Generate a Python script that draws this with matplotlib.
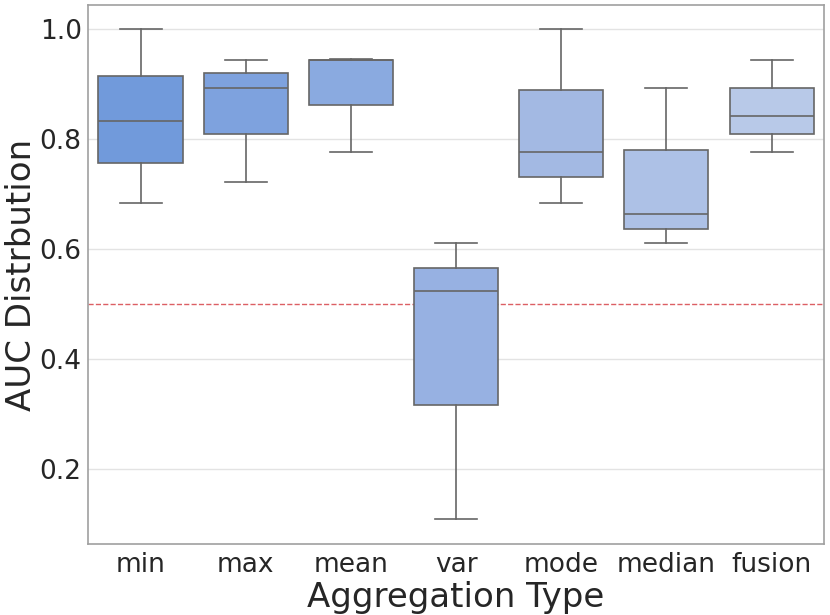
import matplotlib
matplotlib.use("Agg")
import matplotlib.pyplot as plt

# AUC box statistics per aggregation type
categories = ["min", "max", "mean", "var", "mode", "median", "fusion"]
whislo = [0.684, 0.722, 0.778, 0.109, 0.684, 0.611, 0.778]
q1     = [0.758, 0.809, 0.862, 0.318, 0.731, 0.638, 0.809]
med    = [0.833, 0.894, 0.944, 0.525, 0.778, 0.665, 0.842]
q3     = [0.916, 0.920, 0.945, 0.567, 0.889, 0.780, 0.893]
whishi = [1.000, 0.944, 0.947, 0.611, 1.000, 0.894, 0.944]
box_colors = ["#719adb", "#7ea2de", "#8aaae0", "#97b1e2",
              "#a3b9e3", "#adc1e6", "#b8c9e8"]

stats = []
for i, name in enumerate(categories):
    stats.append(dict(label=name, whislo=whislo[i], q1=q1[i], med=med[i],
                      q3=q3[i], whishi=whishi[i], fliers=[]))

fig = plt.figure(figsize=(8.3, 6.15), dpi=100)
ax = fig.add_axes([0.106, 0.1155, 0.887, 0.8765])

ax.axhline(0.5, color="#dc5f64", linestyle="--", linewidth=1.0, zorder=1)

line_col = "#666666"
bp = ax.bxp(stats, positions=range(len(categories)), widths=0.8,
            patch_artist=True, showfliers=False,
            boxprops=dict(edgecolor=line_col, linewidth=1.2),
            medianprops=dict(color=line_col, linewidth=1.2),
            whiskerprops=dict(color=line_col, linewidth=1.2),
            capprops=dict(color=line_col, linewidth=1.2),
            capwidths=0.4, zorder=2)
for patch, c in zip(bp["boxes"], box_colors):
    patch.set_facecolor(c)

ax.set_xlim(-0.5, len(categories) - 0.5)
ax.set_yticks([0.2, 0.4, 0.6, 0.8, 1.0])
ax.yaxis.grid(True, color="#e3e3e3", linewidth=1.0, zorder=0)
ax.set_axisbelow(True)
for sp in ax.spines.values():
    sp.set_color("#a0a0a0")
    sp.set_linewidth(1.2)
ax.tick_params(axis="both", labelsize=19, length=0, colors="#262626")
ax.tick_params(axis="x", pad=6)
ax.tick_params(axis="y", pad=4.5)
ax.set_xlabel("Aggregation Type", fontsize=24.5, color="#262626", labelpad=2)
ax.set_ylabel("AUC Distrbution", fontsize=24.5, color="#262626", labelpad=1)

fig.savefig("out.png", dpi=100)
